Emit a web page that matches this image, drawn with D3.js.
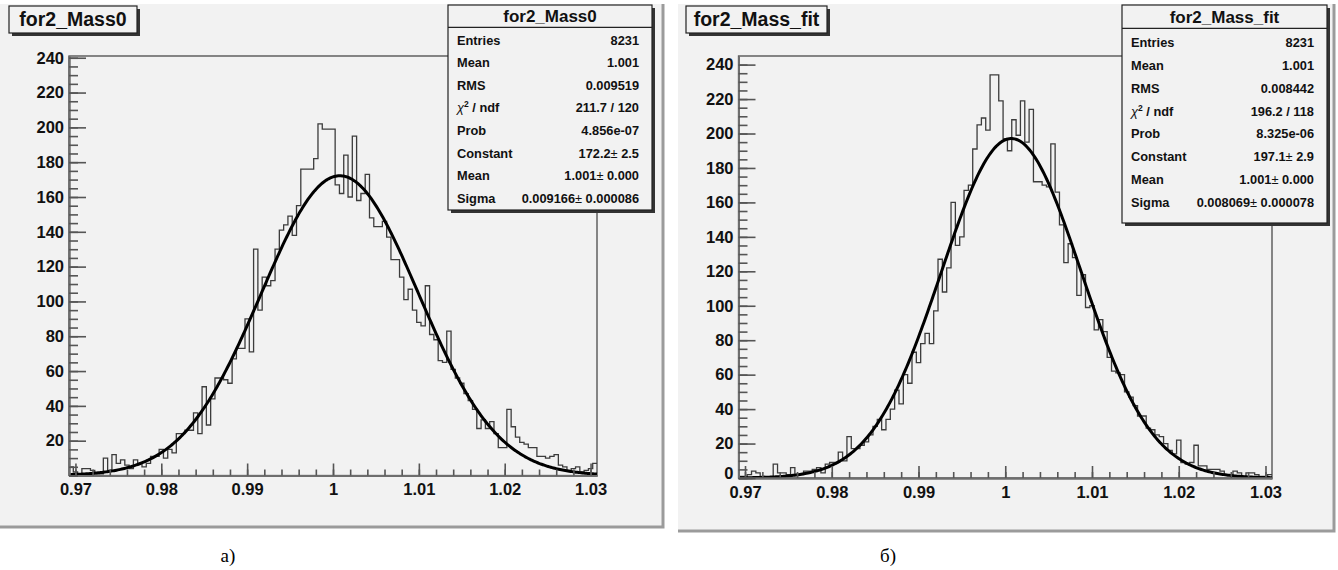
<!DOCTYPE html>
<html><head><meta charset="utf-8">
<script src="https://cdn.jsdelivr.net/npm/d3@7"></script>
<style>body{margin:0;background:#fff} svg{display:block}</style>
</head><body><svg id="c" width="1338" height="570"></svg>
<script>
// ---------------- data ----------------
const binLow = 0.96925, binWidth = 0.0005;
const countsA = [5,2,1,4,4,3,1,1,10,3, 12,7,9,6,4,9,7,5,7,11, 11,15,10,15,13,24,24,26,26,36,
  24,51,29,44,56,56,55,53,67,73, 73,90,71,130,95,114,109,112,130,141, 144,149,138,155,176,176,176,182,202,199,
  199,199,167,162,184,160,195,158,162,173, 148,143,143,146,137,124,124,114,101,107, 95,88,86,109,81,78,66,65,83,61,
  56,53,47,43,38,27,32,27,31,24, 16,16,38,28,22,19,18,16,16,11, 11,10,11,12,6,5,3,4,5,2,3,4,7];
const countsB = [1,1,2,4,3,1,0,0,8,3, 3,2,6,2,2,4,4,5,6,3, 8,9,9,15,10,24,17,17,19,21,
  25,30,34,28,34,40,51,43,60,55, 73,67,78,84,78,97,127,108,122,160, 135,140,167,170,191,205,209,202,234,234,
  219,197,190,208,199,219,195,214,172,172, 170,169,194,166,147,125,136,128,106,118, 99,100,86,92,85,70,62,61,60,50,
  47,42,36,36,29,28,25,24,20,16, 14,22,9,8,9,19,7,7,5,5, 5,4,2,2,4,3,1,3,3,2,1,1,2];
const xTicks = [0.97, 0.98, 0.99, 1.00, 1.01, 1.02, 1.03];
const xTickLabels = ["0.97", "0.98", "0.99", "1", "1.01", "1.02", "1.03"];
const yTicksA = [20, 40, 60, 80, 100, 120, 140, 160, 180, 200, 220, 240];
const yTicksB = [0, 20, 40, 60, 80, 100, 120, 140, 160, 180, 200, 220, 240];
const titles = ["for2_Mass0", "for2_Mass_fit"];
const statLabels = ["Entries", "Mean", "RMS", "CHI", "Prob", "Constant", "Mean", "Sigma"];
const statValuesA = ["8231", "1.001", "0.009519", "211.7 / 120", "4.856e-07", "172.2|2.5", "1.001|0.000", "0.009166|0.000086"];
const statValuesB = ["8231", "1.001", "0.008442", "196.2 / 118", "8.325e-06", "197.1|2.9", "1.001|0.000", "0.008069|0.000078"];
const fitA = [172.2, 1.0008, 0.009166];   // constant, mean, sigma
const fitB = [197.1, 1.0007, 0.008069];
const captions = ["а)", "б)"];

// ---------------- layout ----------------
const SANS = "'Liberation Sans',Arial,Helvetica,sans-serif";
const svg = d3.select("#c");
svg.append("rect").attr("width",1338).attr("height",570).attr("fill","#fff");

const panels = [
  {counts: countsA, fit: fitA, yTicks: yTicksA, stats: statValuesA, title: titles[0], caption: captions[0],
   bg:[0,4,663,527], plot:[69,597,56,475.5], yMax:241,
   tbox:[9,6,137,33], sbox:[448,5,652,210], sep:27.3, row0:40, rowH:22.6, capX:228},
  {counts: countsB, fit: fitB, yTicks: yTicksB, stats: statValuesB, title: titles[1], caption: captions[1],
   bg:[678,4,1334,531], plot:[738.5,1272,56,478], yMax:245,
   tbox:[686,6,827,33], sbox:[1122,5,1327,223], sep:28.3, row0:42.7, rowH:22.8, capX:888}
];

panels.forEach(p => {
  const g = svg.append("g").style("font-family", SANS);
  const [bx0,by0,bx1,by1] = p.bg;
  g.append("rect").attr("x",bx0).attr("y",by0).attr("width",bx1-bx0).attr("height",by1-by0).attr("fill","#f2f2f2");
  g.append("path").attr("d",`M${bx0},${by1}H${bx1}V${by0}`).attr("fill","none").attr("stroke","#9b9b9b").attr("stroke-width",3);

  const [px0,px1,py0,py1] = p.plot;
  const x = d3.scaleLinear().domain([binLow, binLow + p.counts.length*binWidth]).range([px0,px1]);
  const y = d3.scaleLinear().domain([0, p.yMax]).range([py1, py0]);

  // frame
  g.append("rect").attr("x",px0).attr("y",py0).attr("width",px1-px0).attr("height",py1-py0)
    .attr("fill","none").attr("stroke","#4a4a4a").attr("stroke-width",1.3);

  // histogram
  const pts = p.counts.map((c,i)=>[binLow+i*binWidth, c]);
  pts.push([binLow+p.counts.length*binWidth, p.counts[p.counts.length-1]]);
  g.append("path").attr("d", d3.line().x(d=>x(d[0])).y(d=>y(d[1])).curve(d3.curveStepAfter)(pts))
    .attr("fill","none").attr("stroke","#3c3c3c").attr("stroke-width",1.3);

  // fit curve
  const [C,mu,sg] = p.fit;
  const dom = x.domain();
  const fpts = d3.range(0,401).map(k => { const v = dom[0] + (dom[1]-dom[0])*k/400; return [v, C*Math.exp(-0.5*((v-mu)/sg)**2)]; });
  g.append("path").attr("d", d3.line().x(d=>x(d[0])).y(d=>y(d[1]))(fpts))
    .attr("fill","none").attr("stroke","#000").attr("stroke-width",3);

  // axes
  const ax = g.append("g").attr("transform",`translate(0,${py1})`)
    .call(d3.axisBottom(x).tickValues(xTicks).tickFormat((d,i)=>xTickLabels[i]).tickSizeInner(-12).tickSizeOuter(0).tickPadding(8));
  const axm = g.append("g").attr("transform",`translate(0,${py1})`)
    .call(d3.axisBottom(x).tickValues(d3.range(0,31).map(k=>0.97+k*0.002)).tickFormat("").tickSizeInner(-6).tickSizeOuter(0));
  const ay = g.append("g").attr("transform",`translate(${px0},0)`)
    .call(d3.axisLeft(y).tickValues(p.yTicks).tickFormat(d3.format("d")).tickSizeInner(-17).tickSizeOuter(0).tickPadding(5));
  const aym = g.append("g").attr("transform",`translate(${px0},0)`)
    .call(d3.axisLeft(y).tickValues(d3.range(0, p.yMax, 5)).tickFormat("").tickSizeInner(-9).tickSizeOuter(0));
  [ax,axm,ay,aym].forEach(a => {
    a.attr("font-family", null).attr("font-size", null);
    a.select(".domain").attr("stroke","#6e6e6e").attr("stroke-width",2);
    a.selectAll(".tick line").attr("stroke","#555").attr("stroke-width",1.6);
    a.selectAll(".tick text").style("font-size","16.5px").style("font-weight","bold").attr("fill","#111")
      .style("font-family", SANS);
  });
  ax.selectAll(".tick text").attr("dy","0.71em");
  // the zero label sits just above the x labels (as in the original, nearly touching)
  ay.selectAll(".tick").filter(d => d === 0).select("text").attr("dy","0.05em");

  // stats box
  const [sx0,sy0,sx1,sy1] = p.sbox;
  g.append("rect").attr("x",sx0+3).attr("y",sy0+3).attr("width",sx1-sx0).attr("height",sy1-sy0).attr("fill","#333");
  g.append("rect").attr("x",sx0).attr("y",sy0).attr("width",sx1-sx0).attr("height",sy1-sy0)
    .attr("fill","#f2f2f2").attr("stroke","#222").attr("stroke-width",1.2);
  g.append("line").attr("x1",sx0).attr("x2",sx1).attr("y1",p.sep).attr("y2",p.sep).attr("stroke","#222").attr("stroke-width",1.2);
  g.append("text").attr("x",(sx0+sx1)/2).attr("y",p.sep-5).attr("text-anchor","middle")
    .attr("font-size",17).attr("font-weight","bold").attr("fill","#111").text(p.title);
  statLabels.forEach((lab,i) => {
    const ty = p.row0 + i*p.rowH + 4.5;
    const t = g.append("text").attr("x",sx0+9).attr("y",ty).attr("font-size",12.8).attr("font-weight","bold").attr("fill","#111");
    if (lab === "CHI") {
      t.append("tspan").attr("font-weight","normal").attr("font-style","italic").text("χ");
      t.append("tspan").attr("font-size",8.5).attr("dy",-5).text("2");
      t.append("tspan").attr("dy",5).text(" / ndf");
    } else t.text(lab);
    const v = p.stats[i];
    const tv = g.append("text").attr("x",sx1-13).attr("y",ty).attr("text-anchor","end").attr("font-size",12.8).attr("font-weight","bold").attr("fill","#111");
    if (v.includes("|")) {
      const [a,b] = v.split("|");
      tv.append("tspan").text(a);
      tv.append("tspan").attr("font-weight","normal").text("±");
      tv.append("tspan").text(" " + b);
    } else tv.text(v);
  });

  // title box
  const [tx0,ty0,tx1,ty1] = p.tbox;
  g.append("rect").attr("x",tx0+3).attr("y",ty0+3).attr("width",tx1-tx0).attr("height",ty1-ty0).attr("fill","#333");
  g.append("rect").attr("x",tx0).attr("y",ty0).attr("width",tx1-tx0).attr("height",ty1-ty0)
    .attr("fill","#f2f2f2").attr("stroke","#222").attr("stroke-width",1.2);
  g.append("text").attr("x",(tx0+tx1)/2).attr("y",ty1-7).attr("text-anchor","middle")
    .attr("font-size",19.5).attr("font-weight","bold").attr("fill","#111").text(p.title);

  // caption
  svg.append("text").attr("x",p.capX).attr("y",562).attr("text-anchor","middle")
    .style("font-family","'Liberation Serif','Times New Roman',serif").style("font-size","19px").attr("fill","#000").text(p.caption);
});
</script></body></html>
